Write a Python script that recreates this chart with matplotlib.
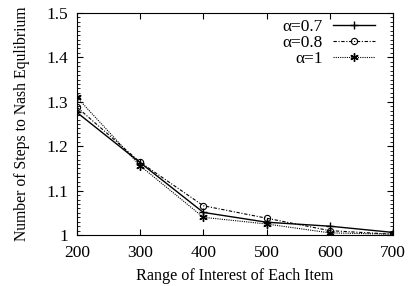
import matplotlib
matplotlib.use('Agg')
import matplotlib.pyplot as plt
from matplotlib.ticker import MultipleLocator

plt.rcParams['font.family'] = ['Liberation Serif', 'DejaVu Serif']

# data
ranges = [200, 300, 400, 500, 600, 700]
steps_a07 = [1.276, 1.163, 1.051, 1.029, 1.020, 1.006]
steps_a08 = [1.288, 1.164, 1.066, 1.038, 1.010, 1.002]
steps_a10 = [1.310, 1.156, 1.040, 1.025, 1.005, 1.002]
labels = ['\u03b1=0.7', '\u03b1=0.8', '\u03b1=1']

fig = plt.figure(figsize=(4.09, 2.86), dpi=100)
ax = fig.add_axes([0.188, 0.178, 0.773, 0.777])

asterisk = (6, 2, 0)
ax.plot(ranges, steps_a07, color='black', linestyle='-', linewidth=1.0,
        marker='+', markersize=6, label=labels[0])
ax.plot(ranges, steps_a08, color='black', linestyle=(0, (3, 1.5, 1, 1.5)), linewidth=0.8,
        marker='o', markersize=4.5, markerfacecolor='none', markeredgewidth=0.8, label=labels[1])
ax.plot(ranges, steps_a10, color='black', linestyle=(0, (1, 1)), linewidth=0.8,
        marker=asterisk, markersize=6, markeredgewidth=1.0, label=labels[2])

ax.set_xlim(200, 700)
ax.set_ylim(1.0, 1.5)
ax.set_xticks(ranges)
ax.set_yticks([1.0, 1.1, 1.2, 1.3, 1.4, 1.5])
ax.set_yticklabels(['1', '1.1', '1.2', '1.3', '1.4', '1.5'])
ax.yaxis.set_minor_locator(MultipleLocator(0.01))
ax.tick_params(which='both', direction='in', top=True, right=True, labelsize=12.5)
ax.tick_params(axis='x', pad=7)
ax.tick_params(axis='y', pad=6)
ax.tick_params(which='major', length=4, width=0.8)
ax.tick_params(which='minor', length=2, width=0.6)
ax.tick_params(axis='x', which='minor', top=False, bottom=False)

ax.set_xlabel('Range of Interest of Each Item', fontsize=11.6, labelpad=5)
ax.set_ylabel('Number of Steps to Nash Equlibrium', fontsize=11.3, labelpad=12)

leg = ax.legend(loc='upper right', bbox_to_anchor=(0.943, 0.975), frameon=False, fontsize=12.5,
                markerfirst=False, handlelength=2.4, borderaxespad=0, borderpad=0,
                labelspacing=0.0, handletextpad=0.6)
for t in leg.get_texts():
    t.set_ha('right')

fig.savefig('out.png', dpi=100)
